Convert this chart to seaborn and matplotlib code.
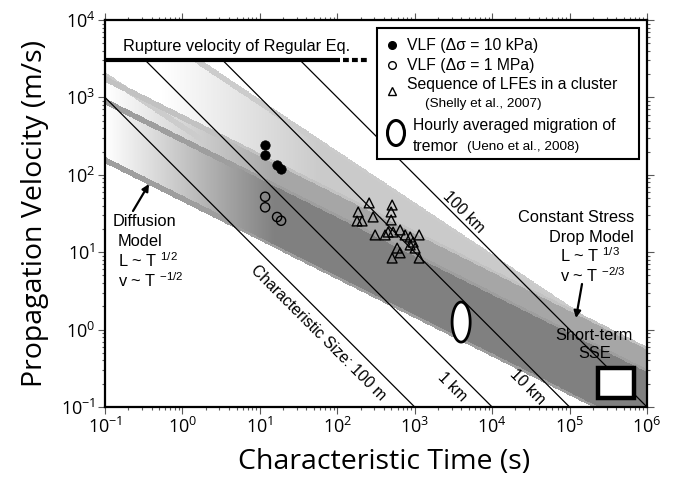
import numpy as np
import pandas as pd
import seaborn as sns
import matplotlib.pyplot as plt
from matplotlib.patches import Rectangle, Ellipse
from matplotlib.ticker import LogLocator, NullFormatter

# VLF events: characteristic time (s) and propagation velocity (m/s)
vlf_time = [11.7, 11.7, 16.7, 18.8]
vlf_vel_10kpa = [243, 180, 134, 119]
vlf_vel_1mpa = [52, 38, 28.5, 25.5]

# LFE sequences in a cluster (Shelly et al., 2007)
lfe_time = [258, 186, 290, 180, 209, 511, 496, 496, 308, 415, 453, 526,
            648, 752, 873, 1140, 954, 873, 1012, 593, 648, 511, 1140]
lfe_vel = [43.3, 33.1, 28.5, 25.3, 25.3, 40.7, 33.1, 26.1, 16.7, 16.7, 18.2, 18.2,
           19.4, 16.7, 15.7, 16.7, 13.5, 12.4, 11.3, 11.3, 9.8, 8.4, 8.4]

# hourly averaged tremor migration (Ueno et al., 2008): time and velocity ranges
tremor_time = [3040, 5200]
tremor_vel = [0.69, 2.27]

# short-term slow slip events
sse_time = [2.3e5, 6.8e5]
sse_vel = [0.13, 0.32]

# rupture velocity of regular earthquakes
rupture_vel = 3000
rupture_time_solid = [0.1, 109]
rupture_time_dashed = [119, 243]

# characteristic sizes (m) of the constant-size lines v = L / T
char_size = [100, 1000, 10000, 100000]
char_label = ["Characteristic Size: 100 m", "1 km", "10 km", "100 km"]

# scaling-model bands: log10 v = a - slope * log10 T, with a in [a_low, a_high]
diffusion_outer = [1.69, 2.74]
diffusion_inner = [1.69, 2.45]
diffusion_slope = 1 / 2
stress_range = [2.62, 3.60]
stress_slope = 2 / 3

sns.set_style("ticks")
plt.rcParams["font.family"] = ["Open Sans", "DejaVu Sans"]
plt.rcParams["mathtext.fontset"] = "custom"
plt.rcParams["mathtext.rm"] = "Liberation Sans"
plt.rcParams["text.color"] = "k"
plt.rcParams["axes.labelcolor"] = "k"
plt.rcParams["xtick.labelcolor"] = "k"
plt.rcParams["ytick.labelcolor"] = "k"
TXT = ["Liberation Sans", "DejaVu Sans"]

W, H = 673, 484
X0, X1, Y0, Y1 = 105, 647, 20, 407
fig = plt.figure(figsize=(W / 100, H / 100), dpi=100)
ax = fig.add_axes([X0 / W, 1 - Y1 / H, (X1 - X0) / W, (Y1 - Y0) / H])
ax.set_xscale("log")
ax.set_yscale("log")
ax.set_xlim(1e-1, 1e6)
ax.set_ylim(1e-1, 1e4)


def fx(px):
    return (px - X0) / (X1 - X0)


def fy(py):
    return (Y1 - py) / (Y1 - Y0)


# ---- shaded model bands (gradient along time, darker edges) ----
lt_e = np.linspace(-1, 6, 1001)
lv_e = np.linspace(-1, 4, 716)
lt_c = (lt_e[:-1] + lt_e[1:]) / 2
lv_c = (lv_e[:-1] + lv_e[1:]) / 2
LT, LV = np.meshgrid(lt_c, lv_c)
below_rupture = LV <= np.log10(rupture_vel)


def band_darkness(a_rng, slope, fill, edge, ramp, half_width=0.036):
    k = LV + slope * LT
    dist = np.minimum(np.abs(k - a_rng[0]), np.abs(k - a_rng[1])) / np.hypot(1, slope)
    inside = (k >= a_rng[0]) & (k <= a_rng[1])
    grad = np.clip((LT - ramp[0]) / (ramp[1] - ramp[0]), 0, 1)
    d = np.where(inside, fill * grad, 0.0)
    d = np.where(dist <= half_width, np.maximum(d, edge), d)
    return np.where(below_rupture, d, 0.0)


dark = np.maximum.reduce([
    band_darkness(stress_range, stress_slope, 0.21, 0.20, (-0.3, 1.8)),
    band_darkness(diffusion_outer, diffusion_slope, 0.35, 0.24, (-1.0, 1.2)),
    band_darkness(diffusion_inner, diffusion_slope, 0.50, 0.38, (-1.0, 1.2)),
])
ax.pcolormesh(10 ** lt_e, 10 ** lv_e, 1 - dark, cmap="gray", vmin=0, vmax=1,
              shading="flat", zorder=0)

# ---- constant characteristic-size lines ----
for L in char_size:
    t = np.logspace(np.log10(max(0.1, L / rupture_vel)), np.log10(L / 0.1), 60)
    ax.plot(t, L / t, color="k", lw=0.9, zorder=3)

# ---- rupture velocity of regular earthquakes ----
ax.plot(rupture_time_solid, [rupture_vel] * 2, color="k", lw=3, solid_capstyle="butt", zorder=4)
ax.plot(rupture_time_dashed, [rupture_vel] * 2, color="k", lw=3,
        ls=(0, (1.4, 0.75)), dash_capstyle="butt", zorder=4)
ax.text(fx(237), fy(46), "Rupture velocity of Regular Eq.", transform=ax.transAxes,
        ha="center", va="center", fontsize=11.8, family=TXT, color="k", zorder=4)

# ---- observations ----
sns.scatterplot(x=vlf_time, y=vlf_vel_10kpa, ax=ax, marker="o", s=46, color="k",
                edgecolor="k", linewidth=0.5, zorder=6, legend=False)
sns.scatterplot(x=vlf_time, y=vlf_vel_1mpa, ax=ax, marker="o", s=44, color="k",
                facecolor="none", edgecolor="k", linewidth=1.0, zorder=6, legend=False)
sns.scatterplot(x=lfe_time, y=lfe_vel, ax=ax, marker="^", s=50, color="k",
                facecolor="none", edgecolor="k", linewidth=1.0, zorder=6, legend=False)

# tremor migration: ellipse spanning the time and velocity ranges (in log space)
th = np.linspace(0, 2 * np.pi, 200)
lt_mid, lt_rad = np.mean(np.log10(tremor_time)), np.ptp(np.log10(tremor_time)) / 2
lv_mid, lv_rad = np.mean(np.log10(tremor_vel)), np.ptp(np.log10(tremor_vel)) / 2
ax.fill(10 ** (lt_mid + lt_rad * np.cos(th)), 10 ** (lv_mid + lv_rad * np.sin(th)),
        facecolor="white", edgecolor="k", lw=2.0, zorder=5)

# short-term SSE box
ax.add_patch(Rectangle((sse_time[0], sse_vel[0]), sse_time[1] - sse_time[0],
                       sse_vel[1] - sse_vel[0], facecolor="white", edgecolor="k",
                       lw=3.2, joinstyle="miter", zorder=5))

# ---- line labels ----
label_pos = [(318, 333), (452, 387), (527, 387), (464, 212)]
for lab, (px, py) in zip(char_label, label_pos):
    ax.text(fx(px), fy(py), lab, transform=ax.transAxes, rotation=-45,
            rotation_mode="anchor", ha="center", va="center", fontsize=11.3,
            family=TXT, color="k", zorder=4)

# ---- model annotations ----
def note(px, py, s, ha="left", size=11.8):
    ax.text(fx(px), fy(py), s, transform=ax.transAxes, ha=ha, va="center",
            fontsize=size, family=TXT, color="k", zorder=7)


note(113, 221, "Diffusion")
note(118, 241, "Model")
note(118, 261, r"L ~ T $^{\mathdefault{1/2}}$")
note(118, 281, r"v ~ T $^{\mathdefault{-1/2}}$")
ax.annotate("", xy=(fx(149), fy(184)), xytext=(fx(133), fy(211)),
            xycoords="axes fraction", textcoords="axes fraction",
            arrowprops=dict(arrowstyle="-|>", color="k", lw=1.6,
                            mutation_scale=10, shrinkA=0, shrinkB=0), zorder=7)

note(634, 217, "Constant Stress", ha="right")
note(634, 237, "Drop Model", ha="right")
note(560, 256, r"L ~ T $^{\mathdefault{1/3}}$")
note(560, 276, r"v ~ T $^{\mathdefault{-2/3}}$")
ax.annotate("", xy=(fx(576), fy(318)), xytext=(fx(582), fy(284)),
            xycoords="axes fraction", textcoords="axes fraction",
            arrowprops=dict(arrowstyle="-|>", color="k", lw=1.6,
                            mutation_scale=10, shrinkA=0, shrinkB=0), zorder=7)
note(594, 335, "Short-term", ha="center")
note(595, 354, "SSE", ha="center")

# ---- legend box ----
ax.add_patch(Rectangle((fx(377), fy(159)), fx(639) - fx(377), fy(28) - fy(159),
                       transform=ax.transAxes, facecolor="white", edgecolor="k",
                       lw=1.5, zorder=8))
ax.plot([fx(392)], [fy(45)], "o", color="k", ms=5.5, transform=ax.transAxes, zorder=9)
ax.plot([fx(392)], [fy(65)], "o", mfc="none", mec="k", mew=1.0, ms=5.5,
        transform=ax.transAxes, zorder=9)
ax.plot([fx(392)], [fy(91)], "^", mfc="none", mec="k", mew=1.0, ms=5.5,
        transform=ax.transAxes, zorder=9)
ax.add_patch(Ellipse((fx(396), fy(133)), 17 / (X1 - X0), 25 / (Y1 - Y0),
                     transform=ax.transAxes, fill=False, edgecolor="k", lw=2.2, zorder=9))


def legend_text(px, py, s, size=11.3):
    ax.text(fx(px), fy(py), s, transform=ax.transAxes, ha="left", va="center",
            fontsize=size, family=TXT, color="k", zorder=9)


legend_text(407, 45, "VLF (Δσ = 10 kPa)")
legend_text(407, 65, "VLF (Δσ = 1 MPa)")
legend_text(407, 84, "Sequence of LFEs in a cluster")
legend_text(425, 104, "(Shelly et al., 2007)", size=9.7)
legend_text(413, 125, "Hourly averaged migration of")
legend_text(413, 146, "tremor")
legend_text(467, 147, "(Ueno et al., 2008)", size=9.7)

# ---- axes styling ----
ax.xaxis.set_major_locator(LogLocator(base=10, numticks=12))
ax.yaxis.set_major_locator(LogLocator(base=10, numticks=12))
ax.xaxis.set_minor_locator(LogLocator(base=10, subs=np.arange(2, 10), numticks=12))
ax.yaxis.set_minor_locator(LogLocator(base=10, subs=np.arange(2, 10), numticks=12))
ax.xaxis.set_minor_formatter(NullFormatter())
ax.yaxis.set_minor_formatter(NullFormatter())
ax.tick_params(which="both", direction="out", top=True, right=True,
               labeltop=False, labelright=False, color="0.35", width=0.8)
ax.tick_params(which="major", length=5, labelsize=13, pad=2)
ax.tick_params(which="minor", length=2.5)
for sp in ax.spines.values():
    sp.set_linewidth(1.6)
    sp.set_color("k")
    sp.set_zorder(10)

ax.set_xlabel("Characteristic Time (s)", fontsize=20.5, va="center")
ax.set_ylabel("Propagation Velocity (m/s)", fontsize=20.5, va="center")
ax.xaxis.set_label_coords(fx(384), fy(462))
ax.yaxis.set_label_coords(fx(35), 0.5)

fig.savefig("out.png", dpi=100)
